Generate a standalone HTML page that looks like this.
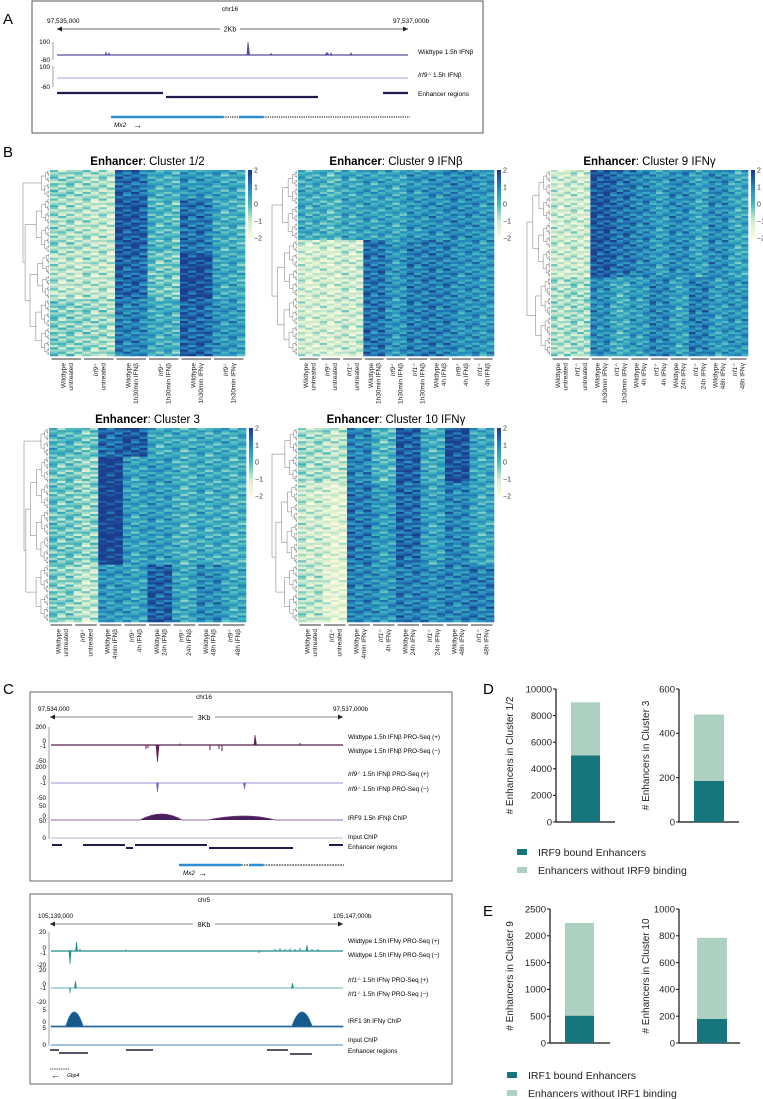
<!DOCTYPE html>
<html><head><meta charset="utf-8"><style>
html,body{margin:0;padding:0;background:#fff;}
svg{display:block;font-family:"Liberation Sans",sans-serif;}
</style></head><body>
<svg id="fig" xmlns="http://www.w3.org/2000/svg" width="763" height="1099" viewBox="0 0 763 1099">
<text x="3" y="24" font-size="15">A</text>
<text x="3" y="157" font-size="15">B</text>
<text x="3" y="694" font-size="15">C</text>
<text x="483" y="694" font-size="15">D</text>
<text x="483" y="916" font-size="15">E</text>

<g font-size="6.5">
<rect x="32" y="1" width="451" height="132" fill="none" stroke="#555" stroke-width="1"/>
<text x="230" y="11" text-anchor="middle">chr16</text>
<text x="47" y="23">97,535,000</text>
<text x="393" y="23">97,537,000b</text>
<line x1="57" y1="29" x2="220" y2="29" stroke="#888" stroke-width="1.2"/>
<line x1="240" y1="29" x2="408" y2="29" stroke="#888" stroke-width="1.2"/>
<path d="M57,29 l5,-2.5 v5z M408,29 l-5,-2.5 v5z" fill="#222"/>
<text x="230" y="31.5" text-anchor="middle" font-size="7">2Kb</text>
<line x1="53" y1="42" x2="53" y2="60" stroke="#777" stroke-width="0.7"/>
<text x="50" y="44" text-anchor="end">100</text>
<text x="50" y="62" text-anchor="end">-60</text>
<line x1="53" y1="66" x2="53" y2="87" stroke="#777" stroke-width="0.7"/>
<text x="50" y="69" text-anchor="end">100</text>
<text x="50" y="89" text-anchor="end">-60</text>
<line x1="57" y1="55" x2="408" y2="55" stroke="#5b4aa0" stroke-width="1.2"/>
<path d="M247,55 L248,42 L249.5,55 Z M105,55 l1,-2.5 l1,2.5 M108,55 l1,-2 l1,2 M325,55 l2,-2.5 l2,2.5 M330,55 l1,-2 l1,2 M270,55 l1,-1.5 l1,1.5 M350,55 l1,-2 l1,2" fill="#5b4aa0" stroke="#5b4aa0" stroke-width="0.8"/>
<line x1="57" y1="78" x2="408" y2="78" stroke="#a9a2dc" stroke-width="1"/>
<text x="418" y="54">Wildtype 1.5h IFNβ</text>
<text x="418" y="77"><tspan font-style="italic">Irf9</tspan><tspan font-size="4" dy="-2">-/-</tspan><tspan dy="2"> 1.5h IFNβ</tspan></text>
<line x1="57" y1="93" x2="163" y2="93" stroke="#1f1d4d" stroke-width="2.2"/>
<line x1="166" y1="97" x2="318" y2="97" stroke="#1f1d4d" stroke-width="2.2"/>
<line x1="383" y1="93" x2="408" y2="93" stroke="#1f1d4d" stroke-width="2.2"/>
<text x="418" y="96">Enhancer regions</text>
<line x1="111" y1="117" x2="223" y2="117" stroke="#2d8fd0" stroke-width="2.5"/>
<line x1="223" y1="117" x2="239" y2="117" stroke="#333" stroke-width="2" stroke-dasharray="0.6,1.2"/>
<line x1="239" y1="117" x2="263" y2="117" stroke="#2d8fd0" stroke-width="2.5"/>
<line x1="263" y1="117" x2="410" y2="117" stroke="#333" stroke-width="2" stroke-dasharray="0.6,1.2"/>
<text x="114" y="127" font-style="italic">Mx2</text>
<text x="133" y="128" font-size="9">→</text>
</g>

<g id="heatmaps"></g>
<g id="panelC" font-size="6.3"></g>
<g id="bars"></g>
</svg>
<script>
const IRF9 = '<tspan font-style="italic">Irf9</tspan><tspan font-size="4" dy="-2">-/-</tspan><tspan dy="2"></tspan>';
const IRF1 = '<tspan font-style="italic">Irf1</tspan><tspan font-size="4" dy="-2">-/-</tspan><tspan dy="2"></tspan>';
const hm1Labels = [["Wildtype","untreated"],[IRF9,"untreated"],["Wildtype","1h30min IFNβ"],[IRF9,"1h30min IFNβ"],["Wildtype","1h30min IFNγ"],[IRF9,"1h30min IFNγ"]];
const hm1Blocks = [0.15,0.30,0.25,0.30];
const hm1Values = [[-0.6,-0.8,1.3,0.2,0.6,0.3],[-0.8,-1.0,1.6,0.0,1.2,0.2],[-1.0,-1.0,1.4,-0.3,1.8,0.3],[-0.5,-0.7,1.0,0.2,1.4,0.6]];
const hm2Labels = [["Wildtype","untreated"],[IRF9,"untreated"],[IRF1,"untreated"],["Wildtype","1h30min IFNβ"],[IRF9,"1h30min IFNβ"],[IRF1,"1h30min IFNβ"],["Wildtype","4h IFNβ"],[IRF9,"4h IFNβ"],[IRF1,"4h IFNβ"]];
const hm2Blocks = [0.38,0.62];
const hm2Values = [[0.2,0.0,0.3,0.4,0.3,0.6,0.7,0.8,0.6],[-1.3,-1.3,-1.2,1.2,0.6,1.0,1.0,0.7,0.6]];
const hm3Labels = [["Wildtype","untreated"],[IRF1,"untreated"],["Wildtype","1h30min IFNγ"],[IRF1,"1h30min IFNγ"],["Wildtype","4h IFNγ"],[IRF1,"4h IFNγ"],["Wildtype","24h IFNγ"],[IRF1,"24h IFNγ"],["Wildtype","48h IFNγ"],[IRF1,"48h IFNγ"]];
const hm3Blocks = [0.58,0.42];
const hm3Values = [[-1.2,-1.2,1.6,1.2,0.9,0.5,0.8,0.4,0.8,0.3],[-0.9,-0.8,0.8,0.2,0.5,0.9,0.4,1.0,0.5,0.6]];
const hm4Labels = [["Wildtype","untreated"],[IRF9,"untreated"],["Wildtype","4min IFNβ"],[IRF9,"4h IFNβ"],["Wildtype","24h IFNβ"],[IRF9,"24h IFNβ"],["Wildtype","48h IFNβ"],[IRF9,"48h IFNβ"]];
const hm4Blocks = [0.15,0.55,0.30];
const hm4Values = [[0.0,-0.3,1.3,1.6,0.2,0.2,0.2,0.2],[-0.3,-0.6,2.0,0.4,0.5,0.1,0.2,0.1],[-0.5,-1.0,0.6,0.4,1.5,0.3,0.8,0.3]];
const hm5Labels = [["Wildtype","untreated"],[IRF1,"untreated"],["Wildtype","4min IFNγ"],[IRF1,"4h IFNγ"],["Wildtype","24h IFNγ"],[IRF1,"24h IFNγ"],["Wildtype","48h IFNγ"],[IRF1,"48h IFNγ"]];
const hm5Blocks = [0.28,0.42,0.30];
const hm5Values = [[-0.8,-1.0,0.9,0.0,1.5,0.2,1.7,0.3],[-1.2,-1.5,1.1,0.5,1.3,0.4,0.9,0.3],[-1.0,-1.6,0.9,0.6,1.0,0.8,0.9,1.0]];
const repOffsets = [0.15,-0.1,0.05,-0.2];
const rowJitter = [0.3,-0.4,0.1,0.6,-0.2,-0.7,0.4,0.0,-0.5,0.8,-0.1,0.2,-0.6,0.5,-0.3,0.1,0.7];
const cbTicks = [2,1,0,-1,-2];

const dCategories = ["Cluster 1/2","Cluster 3"];
const dBound = [5000,185];
const dUnbound = [4000,300];
const dMax = [10000,600];
const dStep = [2000,200];
const eCategories = ["Cluster 9","Cluster 10"];
const eBound = [510,180];
const eUnbound = [1730,605];
const eMax = [2500,1000];
const eStep = [500,200];

const NS = "http://www.w3.org/2000/svg";
function mk(parent, tag, attrs){const e=document.createElementNS(NS,tag);for(const k in attrs)e.setAttribute(k,attrs[k]);parent.appendChild(e);return e;}

const stops=[[-2,[251,251,220]],[-1,[207,234,204]],[0,[69,185,189]],[1,[35,135,190]],[2,[28,62,142]]];
function col(v){v=Math.max(-2,Math.min(2,v));for(let i=0;i<stops.length-1;i++){const a=stops[i],b=stops[i+1];if(v<=b[0]){const t=(v-a[0])/(b[0]-a[0]);const c=a[1].map((x,j)=>Math.round(x+(b[1][j]-x)*t));return `rgb(${c[0]},${c[1]},${c[2]})`;}}return "rgb(28,62,142)";}

const hmRoot=document.getElementById('heatmaps');
function heatmap(name,x0,y0,w,h,labels,blocks,values,reps,dendroLeft,title){
  const g=mk(hmRoot,'g',{});
  
  
  const t=mk(g,'text',{x:x0+w/2,y:y0-5,'text-anchor':'middle','font-size':'11.5'});
  t.innerHTML='<tspan font-weight="bold">Enhancer</tspan>: '+title;
  
  
  const nG=labels.length, nC=nG*reps, cw=w/nC;
  const nR=Math.round(h/2.2), rh=h/nR;
  const bEnd=[];let acc=0;blocks.forEach(f=>{acc+=f;bEnd.push(Math.round(acc*nR));});
  for(let r=0;r<nR;r++){
    let b=0;while(r>=bEnd[b]&&b<bEnd.length-1)b++;
    for(let c=0;c<nC;c++){
      const gi=Math.floor(c/reps), ri=c%reps;
      const v=values[b][gi]+repOffsets[ri%repOffsets.length]+rowJitter[(r+c*5)%rowJitter.length];
      const cell=mk(g,'rect',{x:(x0+c*cw).toFixed(2),y:(y0+r*rh).toFixed(2),width:(cw+0.3).toFixed(2),height:(rh+0.3).toFixed(2),fill:col(v)});
      
      
    }
  }
  const cbx=x0+w+3, cbh=68;
  for(let i=0;i<34;i++){
    mk(g,'rect',{x:cbx,y:y0+i*cbh/34,width:4,height:cbh/34+0.4,fill:col(2-4*i/33)});
  }
  cbTicks.forEach((v,i)=>{const tt=mk(g,'text',{x:cbx+6,y:y0+(2-v)/4*cbh+2.5,'font-size':'7',fill:'#333'});tt.textContent=(v<0?'−':'')+Math.abs(v);
    
    });
  const dg=mk(g,'g',{stroke:'#777','stroke-width':'0.5',fill:'none'});
  const dW=x0-dendroLeft, N=nR;
  function node(lo,hi){
    if(hi-lo<=1){return {y:y0+(lo+0.5)*rh,x:x0-1};}
    let mid=Math.floor((lo+hi)/2);
    for(const e of bEnd){if(e>lo+2&&e<hi-2){mid=e;break;}}
    const a=node(lo,mid), b=node(mid,hi);
    const x=x0-1-dW*Math.pow(Math.log2(hi-lo)/Math.log2(N),2.2);
    mk(dg,'path',{d:`M${a.x},${a.y}H${x}V${b.y}H${b.x}`});
    return {y:(a.y+b.y)/2,x:x};
  }
  node(0,nR);
  const uy=y0+h+3;
  labels.forEach((lb,i)=>{
    const gx0=x0+i*reps*cw, gx1=gx0+reps*cw;
    const ul=mk(g,'line',{x1:gx0+1.5,x2:gx1-1.5,y1:uy,y2:uy,stroke:'#333','stroke-width':'1'});
    
    
    const cx=(gx0+gx1)/2;
    const tg=mk(g,'g',{transform:`translate(${cx},${uy+4}) rotate(-90)`});
    const tx=mk(tg,'text',{'text-anchor':'end','font-size':'6.5',fill:'#222'});
    tx.innerHTML=`<tspan x="0" y="-1">${lb[0]}</tspan><tspan x="0" y="6.5">${lb[1]}</tspan>`;
    
    
  });
}
heatmap('heatmap-cluster-1-2',50,170,195,186,hm1Labels,hm1Blocks,hm1Values,4,24,'Cluster 1/2');
heatmap('heatmap-cluster-9-ifnb',298,170,196,186,hm2Labels,hm2Blocks,hm2Values,3,273,'Cluster 9 IFNβ');
heatmap('heatmap-cluster-9-ifng',551,170,197,186,hm3Labels,hm3Blocks,hm3Values,3,528,'Cluster 9 IFNγ');
heatmap('heatmap-cluster-3',49,428,197,194,hm4Labels,hm4Blocks,hm4Values,3,25,'Cluster 3');
heatmap('heatmap-cluster-10-ifng',298,428,196,194,hm5Labels,hm5Blocks,hm5Values,3,273,'Cluster 10 IFNγ');

const C=document.getElementById('panelC');
C.innerHTML=`
<rect x="30" y="692" width="422" height="189" fill="none" stroke="#666"/>
<text x="204" y="699" text-anchor="middle">chr16</text>
<text x="38" y="711">97,534,000</text><text x="333" y="711">97,537,000b</text>
<line x1="50" y1="717" x2="193" y2="717" stroke="#888"/><line x1="215" y1="717" x2="343" y2="717" stroke="#888"/>
<path d="M50,717 l5,-2.5 v5z M343,717 l-5,-2.5 v5z" fill="#222"/>
<text x="204" y="720" text-anchor="middle" font-size="7">3Kb</text>
<line x1="49" y1="727" x2="49" y2="839" stroke="#777" stroke-width="0.7"/>
<g text-anchor="end">
<text x="46" y="729">200</text><text x="46" y="743">0</text><text x="46" y="748">-1</text><text x="46" y="763">-50</text>
<text x="46" y="769">200</text><text x="46" y="780">0</text><text x="46" y="785">-1</text><text x="46" y="800">-50</text>
<text x="46" y="808">50</text><text x="46" y="818">0</text><text x="46" y="823">50</text><text x="46" y="840">0</text></g>
<line x1="51" y1="745" x2="343" y2="745" stroke="#5c1f4f" stroke-width="1.2"/>
<path d="M156,745 L157.5,762 L159,745Z M254,745 L255,735 L256.5,745Z" fill="#5c1f4f" stroke="#5c1f4f" stroke-width="0.6"/>
<path d="M146,745v4 M148,745v3 M210,745v5 M222,745v6 M219,745v4 M300,745v-2 M180,745v-1.5" stroke="#5c1f4f" stroke-width="1"/>
<line x1="51" y1="783" x2="343" y2="783" stroke="#9a90d8" stroke-width="1"/>
<path d="M156.5,783 L157.5,792 L158.5,783Z M243.5,783 L244.5,789 L245.5,783Z" fill="#6a5cc0" stroke="#6a5cc0" stroke-width="0.6"/>
<path d="M51,820 H140 Q162,808 182,820 H208 Q245,812 275,820 H343" fill="#4a1f5e" stroke="#6b3a7e" stroke-width="0.8"/>
<line x1="51" y1="838" x2="343" y2="838" stroke="#cdbfe0" stroke-width="1.2"/>
<text x="348" y="739">Wildtype 1.5h IFNβ PRO-Seq (+)</text>
<text x="348" y="753">Wildtype 1.5h IFNβ PRO-Seq (−)</text>
<text x="348" y="776"><tspan font-style="italic">Irf9</tspan><tspan font-size="4" dy="-2">-/-</tspan><tspan dy="2"> 1.5h IFNβ PRO-Seq (+)</tspan></text>
<text x="348" y="791"><tspan font-style="italic">Irf9</tspan><tspan font-size="4" dy="-2">-/-</tspan><tspan dy="2"> 1.5h IFNβ PRO-Seq (−)</tspan></text>
<text x="348" y="820">IRF9 1.5h IFNβ ChIP</text>
<text x="348" y="839">Input ChIP</text>
<text x="348" y="849">Enhancer regions</text>
<g stroke="#1f1d4d" stroke-width="2">
<line x1="52" y1="845" x2="62" y2="845"/><line x1="83" y1="845" x2="125" y2="845"/><line x1="126" y1="848" x2="133" y2="848"/>
<line x1="135" y1="845" x2="207" y2="845"/><line x1="209" y1="848" x2="293" y2="848"/><line x1="329" y1="845" x2="343" y2="845"/></g>
<line x1="179" y1="865" x2="241" y2="865" stroke="#2d8fd0" stroke-width="2.5"/>
<line x1="241" y1="865" x2="249" y2="865" stroke="#333" stroke-width="2" stroke-dasharray="0.6,1"/>
<line x1="249" y1="865" x2="263" y2="865" stroke="#2d8fd0" stroke-width="2.5"/>
<line x1="263" y1="865" x2="344" y2="865" stroke="#333" stroke-width="2" stroke-dasharray="0.6,1"/>
<text x="183" y="875" font-style="italic">Mx2</text><text x="198" y="876" font-size="9">→</text>

<rect x="30" y="894" width="422" height="190" fill="none" stroke="#666"/>
<text x="204" y="902" text-anchor="middle">chr5</text>
<text x="38" y="918">105,139,000</text><text x="333" y="918">105,147,000b</text>
<line x1="50" y1="924" x2="193" y2="924" stroke="#888"/><line x1="215" y1="924" x2="343" y2="924" stroke="#888"/>
<path d="M50,924 l5,-2.5 v5z M343,924 l-5,-2.5 v5z" fill="#222"/>
<text x="204" y="927" text-anchor="middle" font-size="7">8Kb</text>
<line x1="49" y1="932" x2="49" y2="1046" stroke="#777" stroke-width="0.7"/>
<g text-anchor="end">
<text x="46" y="934">20</text><text x="46" y="950">0</text><text x="46" y="955">-1</text><text x="46" y="967">-20</text>
<text x="46" y="972">20</text><text x="46" y="986">0</text><text x="46" y="990">-1</text><text x="46" y="1004">-20</text>
<text x="46" y="1012">5</text><text x="46" y="1024">0</text><text x="46" y="1030">5</text><text x="46" y="1047">0</text></g>
<line x1="51" y1="951" x2="343" y2="951" stroke="#1d8a8a" stroke-width="1.2"/>
<path d="M69,951 L70,964 L71,951Z M75.5,951 L76.5,942 L77.5,951Z M306,951 L307,945 L308,951Z" fill="#1d8a8a" stroke="#1d8a8a" stroke-width="0.6"/>
<path d="M275,951v-2 M280,951v-3 M285,951v-2 M290,951v-2.5 M295,951v-2 M300,951v-3 M312,951v-2 M318,951v-2 M259,951v2 M126,951v-1.5 M80,951v-2" stroke="#1d8a8a" stroke-width="1"/>
<line x1="51" y1="988" x2="343" y2="988" stroke="#5fb3b0" stroke-width="1"/>
<path d="M69.5,988 L70,993 L70.5,988Z M74.5,988 L75.5,981 L76.5,988Z M291.5,988 L292.5,983 L293.5,988Z" fill="#1d8a8a" stroke="#1d8a8a" stroke-width="0.6"/>
<path d="M51,1026 H66 Q74,998 83,1026 H292 Q302,998 312,1026 H343 V1027 H51Z" fill="#165a8c" stroke="#2a6fa8" stroke-width="0.8"/>
<line x1="51" y1="1045" x2="343" y2="1045" stroke="#6a9cc8" stroke-width="1.2"/>
<text x="348" y="943">Wildtype 1.5h IFNγ PRO-Seq (+)</text>
<text x="348" y="957">Wildtype 1.5h IFNγ PRO-Seq (−)</text>
<text x="348" y="982"><tspan font-style="italic">Irf1</tspan><tspan font-size="4" dy="-2">-/-</tspan><tspan dy="2"> 1.5h IFNγ PRO-Seq (+)</tspan></text>
<text x="348" y="996"><tspan font-style="italic">Irf1</tspan><tspan font-size="4" dy="-2">-/-</tspan><tspan dy="2"> 1.5h IFNγ PRO-Seq (−)</tspan></text>
<text x="348" y="1023">IRF1 3h IFNγ ChIP</text>
<text x="348" y="1042">Input ChIP</text>
<text x="348" y="1053">Enhancer regions</text>
<g stroke="#1f1d3d" stroke-width="1.5">
<line x1="50" y1="1050" x2="59" y2="1050"/><line x1="59" y1="1053" x2="88" y2="1053"/><line x1="126" y1="1050" x2="153" y2="1050"/>
<line x1="267" y1="1050" x2="288" y2="1050"/><line x1="290" y1="1054" x2="312" y2="1054"/></g>
<line x1="50" y1="1069" x2="70" y2="1069" stroke="#333" stroke-width="1" stroke-dasharray="1,0.8"/>
<text x="51" y="1078" font-size="9">←</text><text x="67" y="1077" font-size="5" font-style="italic">Gbp4</text>
`;

const B=document.getElementById('bars');
function barChart(name,ax,yTop,yBot,xEnd,bx0,bx1,max,step,bound,unbound,titleText,titleX){
  const g=mk(B,'g',{});
  
  
  const yS=v=>yBot-(v/max)*(yBot-yTop);
  mk(g,'line',{x1:ax,y1:yTop,x2:ax,y2:yBot,stroke:'#111','stroke-width':'1.2'});
  mk(g,'line',{x1:ax,y1:yBot,x2:xEnd,y2:yBot,stroke:'#111','stroke-width':'1.2'});
  for(let v=0;v<=max+1e-6;v+=step){
    mk(g,'line',{x1:ax-3,y1:yS(v),x2:ax,y2:yS(v),stroke:'#111','stroke-width':'1'});
    const t=mk(g,'text',{x:ax-4,y:yS(v)+3.3,'text-anchor':'end','font-size':'9.5',fill:'#222'});t.textContent=v;
    
    
  }
  const r1=mk(g,'rect',{x:bx0,y:yS(bound),width:bx1-bx0,height:yBot-yS(bound),fill:'#17767d'});
  
  
  const r2=mk(g,'rect',{x:bx0,y:yS(bound+unbound),width:bx1-bx0,height:yS(bound)-yS(bound+unbound),fill:'#acd1c1'});
  
  
  const tt=mk(g,'text',{transform:`translate(${titleX},${(yTop+yBot)/2}) rotate(-90)`,'text-anchor':'middle','font-size':'10',fill:'#222'});
  tt.textContent=titleText;
  
  
}
barChart('bar-chart-cluster-1-2',556,689,822,615,571,600,dMax[0],dStep[0],dBound[0],dUnbound[0],'# Enhancers in '+dCategories[0],513);
barChart('bar-chart-cluster-3',679,689,822,739,694,724,dMax[1],dStep[1],dBound[1],dUnbound[1],'# Enhancers in '+dCategories[1],649);
barChart('bar-chart-cluster-9',550,909,1043,610,565,594,eMax[0],eStep[0],eBound[0],eUnbound[0],'# Enhancers in '+eCategories[0],513);
barChart('bar-chart-cluster-10',679,909,1043,740,697,727,eMax[1],eStep[1],eBound[1],eUnbound[1],'# Enhancers in '+eCategories[1],649);

function legend(name,x,y,txt,color){
  const g=mk(B,'g',{});
  
  
  mk(g,'rect',{x:x,y:y-3,width:10,height:6,fill:color});
  const t=mk(g,'text',{x:x+21,y:y+4,'font-size':'10.5',fill:'#222'});t.textContent=txt;
}
legend('legend-irf9-bound',517,852,'IRF9 bound Enhancers','#17767d');
legend('legend-irf9-unbound',517,870,'Enhancers without IRF9 binding','#acd1c1');
legend('legend-irf1-bound',507,1075,'IRF1 bound Enhancers','#17767d');
legend('legend-irf1-unbound',507,1093,'Enhancers without IRF1 binding','#acd1c1');
</script>
</body></html>
